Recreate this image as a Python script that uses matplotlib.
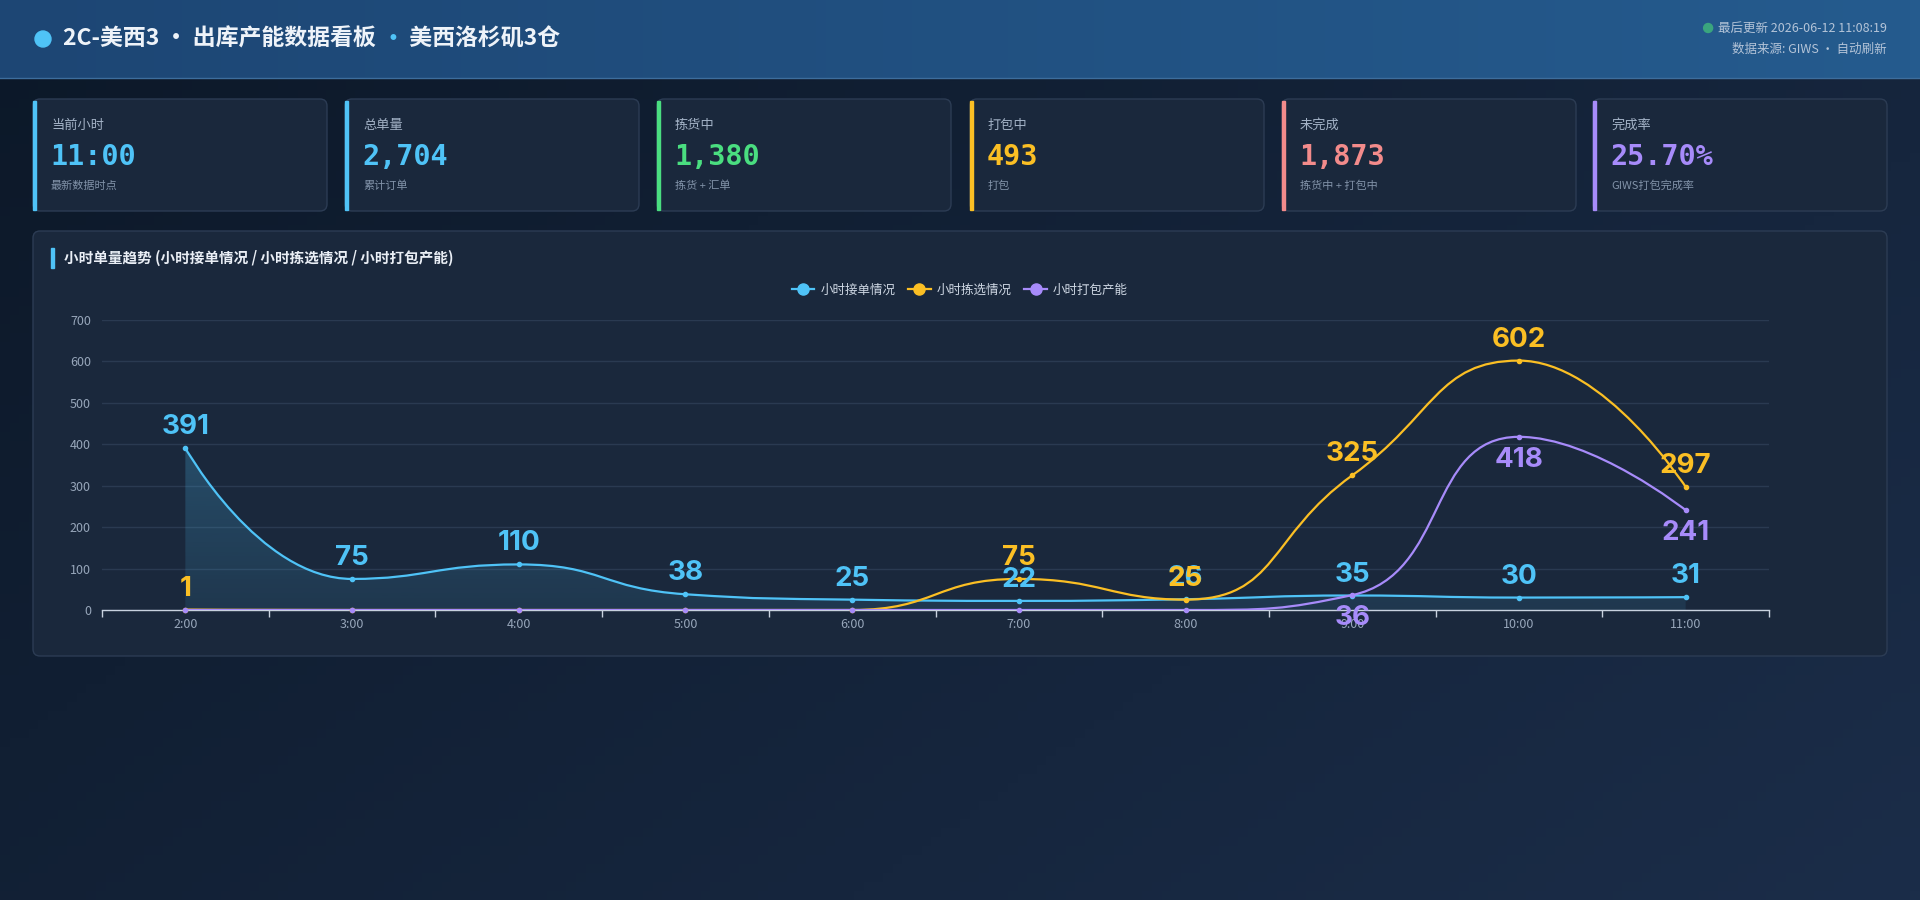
import matplotlib
matplotlib.use("Agg")
import matplotlib.pyplot as plt
import numpy as np
from matplotlib.patches import FancyBboxPatch, Rectangle, Circle, PathPatch
from matplotlib.path import Path
from matplotlib.lines import Line2D

plt.rcParams["font.family"] = ["Noto Sans CJK SC", "DejaVu Sans"]

# ---- data ----
hours = ["2:00", "3:00", "4:00", "5:00", "6:00", "7:00", "8:00", "9:00", "10:00", "11:00"]
orders_in = [391, 75, 110, 38, 25, 22, 26, 35, 30, 31]      # 小时接单情况
picked = [1, 0, 0, 0, 0, 75, 25, 325, 602, 297]            # 小时拣选情况
packed = [0, 0, 0, 0, 0, 0, 0, 36, 418, 241]               # 小时打包产能
series_names = ["小时接单情况", "小时拣选情况", "小时打包产能"]

card_titles = ["当前小时", "总单量", "拣货中", "打包中", "未完成", "完成率"]
card_values = ["11:00", "2,704", "1,380", "493", "1,873", "25.70%"]
card_notes = ["最新数据时点", "累计订单", "拣货 + 汇单", "打包", "拣货中 + 打包中", "GIWS打包完成率"]

title_parts = ["2C-美西3 · 出库产能数据看板 ", "·", " 美西洛杉矶3仓"]
update_text = "最后更新 2026-06-12 11:08:19"
source_text = "数据来源: GIWS · 自动刷新"
chart_title = "小时单量趋势 (小时接单情况 / 小时拣选情况 / 小时打包产能)"

# ---- style ----
BLUE, YELLOW, PURPLE = "#4fc3f7", "#fbbf24", "#a78bfa"
card_colors = [BLUE, BLUE, "#4ade80", YELLOW, "#f38b8b", PURPLE]
CARD_FILL, CARD_EDGE = "#1a283c", "#2c3c54"

W, H = 1920, 900
fig = plt.figure(figsize=(W / 100, H / 100), dpi=100)
bg = fig.add_axes([0, 0, 1, 1])
bg.set_xlim(0, W)
bg.set_ylim(H, 0)
bg.axis("off")

# page background gradient
gx, gy = np.meshgrid(np.linspace(0, 1, 200), np.linspace(0, 1, 100))
t = np.clip(0.6 * gx + 0.4 * gy, 0, 1)
c0 = np.array([0x0c, 0x18, 0x28]) / 255
c1 = np.array([0x1b, 0x2d, 0x49]) / 255
img = c0 + (c1 - c0) * t[..., None]
bg.imshow(img, extent=(0, W, H, 0), aspect="auto", zorder=0)

# header
hx = np.linspace(0, 1, 200)[None, :].repeat(2, axis=0)
h0 = np.array([0x1d, 0x46, 0x74]) / 255
h1 = np.array([0x25, 0x5b, 0x8e]) / 255
himg = h0 + (h1 - h0) * hx[..., None]
bg.imshow(himg, extent=(0, W, 78, 0), aspect="auto", zorder=1)
bg.plot([0, W], [78, 78], color="#3d6d9c", lw=1, zorder=2)

bg.add_patch(Circle((43, 39), 8, color=BLUE, zorder=3))
fig.canvas.draw()
renderer = fig.canvas.get_renderer()
tx = 63
for part, col in zip(title_parts, ["#eef3f9", BLUE, "#eef3f9"]):
    tt = bg.text(tx, 39, part, fontsize=16.5, fontweight="bold", color=col,
                 va="center", ha="left", zorder=3)
    ext = tt.get_window_extent(renderer)
    tx += ext.width

bg.text(1887, 28, update_text, fontsize=9, color="#b4c4d8", ha="right", va="center", zorder=3)
upd = bg.texts[-1].get_window_extent(renderer)
bg.add_patch(Circle((1887 - upd.width - 10, 28), 4.5, color="#3aa57e", zorder=3))
bg.text(1887, 49, source_text, fontsize=9, color="#b4c4d8", ha="right", va="center", zorder=3)

# KPI cards
card_x = [33, 345, 657, 970, 1282, 1593]
card_w, card_y, card_h = 294, 99, 112
for x, ttl, val, note, col in zip(card_x, card_titles, card_values, card_notes, card_colors):
    bg.add_patch(FancyBboxPatch((x, card_y), card_w, card_h,
                                boxstyle="round,pad=0,rounding_size=7",
                                fc=CARD_FILL, ec=CARD_EDGE, lw=1, zorder=3))
    bg.add_patch(Rectangle((x, card_y + 1.5), 3, card_h - 3, color=col, zorder=4))
    bg.text(x + 18, 125, ttl, fontsize=9.5, color="#a3b2c6", va="center", zorder=5)
    bg.text(x + 17, 157, val, fontsize=20.5, fontweight="bold", color=col,
            family="DejaVu Sans Mono", va="center", zorder=5)
    bg.text(x + 18, 186, note, fontsize=8, color="#8293a9", va="center", zorder=5)

# chart panel
bg.add_patch(FancyBboxPatch((33, 231), 1854, 425, boxstyle="round,pad=0,rounding_size=7",
                            fc=CARD_FILL, ec=CARD_EDGE, lw=1, zorder=3))
bg.add_patch(Rectangle((51, 248), 3, 20, color=BLUE, zorder=4))
bg.text(64, 258, chart_title, fontsize=10.5, fontweight="bold", color="#e9eef5",
        va="center", zorder=5)

# ---- chart axes ----
left, right, top, bottom = 102, 1769, 320, 610
ax = fig.add_axes([left / W, 1 - bottom / H, (right - left) / W, (bottom - top) / H])
ax.set_facecolor("none")
ax.set_zorder(5)
x = np.arange(len(hours))
ax.set_xlim(-0.5, len(hours) - 0.5)
ax.set_ylim(0, 700)
ax.set_yticks(np.arange(0, 701, 100))
ax.set_xticks(x)
ax.set_xticklabels(hours)
ax.set_xticks(np.arange(-0.5, len(hours)), minor=True)
ax.tick_params(axis="x", which="major", length=0, pad=6, colors="#97a6ba", labelsize=9)
ax.tick_params(axis="x", which="minor", length=5, width=1, color="#c8d2df")
ax.tick_params(axis="y", length=0, pad=8, colors="#97a6ba", labelsize=9)
for s in ["top", "right", "left"]:
    ax.spines[s].set_visible(False)
ax.spines["bottom"].set_color("#c8d2df")
ax.spines["bottom"].set_linewidth(1)
ax.grid(axis="y", color="#2a3a51", lw=1)
ax.set_axisbelow(True)


def smooth_path(xs, ys, s=0.5):
    """echarts-style smoothing with control points kept inside neighbour bounds."""
    pts = ax.transData.transform(np.column_stack([xs, ys]).astype(float))
    verts, codes = [tuple(pts[0])], [Path.MOVETO]
    cp0 = tuple(pts[0])
    px, py = pts[0]
    n = len(pts)
    for i in range(1, n):
        xx, yy = pts[i]
        if i == n - 1:
            cp1 = (xx, yy)
            ncp = None
        else:
            nx, ny = pts[i + 1]
            vx, vy = nx - px, ny - py
            l0 = np.hypot(xx - px, yy - py)
            l1 = np.hypot(nx - xx, ny - yy)
            r = l1 / (l0 + l1)
            ncx = min(max(xx + vx * s * r, min(nx, xx)), max(nx, xx))
            ncy = min(max(yy + vy * s * r, min(ny, yy)), max(ny, yy))
            vx, vy = ncx - xx, ncy - yy
            c1x = xx - vx * l0 / l1
            c1y = yy - vy * l0 / l1
            c1x = min(max(c1x, min(px, xx)), max(px, xx))
            c1y = min(max(c1y, min(py, yy)), max(py, yy))
            vx, vy = xx - c1x, yy - c1y
            ncp = (xx + vx * l1 / l0, yy + vy * l1 / l0)
            cp1 = (c1x, c1y)
        verts += [cp0, cp1, (xx, yy)]
        codes += [Path.CURVE4] * 3
        cp0 = ncp
        px, py = xx, yy
    return np.array(ax.transData.inverted().transform(verts)), codes


# area under 接单 line
v, c = smooth_path(x, orders_in)
area = Path(np.vstack([v, [[x[-1], 0], [x[0], 0], [x[0], orders_in[0]]]]),
            c + [Path.LINETO, Path.LINETO, Path.CLOSEPOLY])
clip = PathPatch(area, fc="none", ec="none", transform=ax.transData)
ax.add_patch(clip)
grad = np.linspace(0.10, 0.24, 100)[:, None]
rgba = np.zeros((100, 1, 4))
rgba[..., :3] = matplotlib.colors.to_rgb(BLUE)
rgba[..., 3] = grad
im = ax.imshow(rgba, extent=(-0.5, 9.5, 0, 400), origin="lower", aspect="auto", zorder=1)
im.set_clip_path(clip)
ax.set_xlim(-0.5, len(hours) - 0.5)
ax.set_ylim(0, 700)

for vals, col, z in [(orders_in, BLUE, 3), (picked, YELLOW, 4), (packed, PURPLE, 5)]:
    v, c = smooth_path(x, vals)
    ax.add_patch(PathPatch(Path(v, c), fc="none", ec=col, lw=1.6, zorder=z))
    ax.plot(x, vals, "o", ms=3, color=col, zorder=z, clip_on=False)

for vals, col, dy, va in [(orders_in, BLUE, 8, "bottom"), (picked, YELLOW, 8, "bottom"),
                          (packed, PURPLE, -10, "top")]:
    for i, val in enumerate(vals):
        if val == 0:
            continue
        ax.annotate(str(val), (i, val), xytext=(0, dy), textcoords="offset pixels",
                    ha="center", va=va, fontsize=20, fontweight="bold", color=col,
                    family=["Inter", "DejaVu Sans"], zorder=8, annotation_clip=False)

handles = [Line2D([], [], color=col, lw=1.6, marker="o", ms=8) for col in (BLUE, YELLOW, PURPLE)]
leg = fig.legend(handles, series_names, loc="center", bbox_to_anchor=(0.5, 1 - 290 / H),
                 ncol=3, frameon=False, fontsize=9, handlelength=1.8, handletextpad=0.5,
                 columnspacing=1.0, labelcolor="#cfd8e4")

fig.savefig("out.png", dpi=100, facecolor=fig.get_facecolor())
